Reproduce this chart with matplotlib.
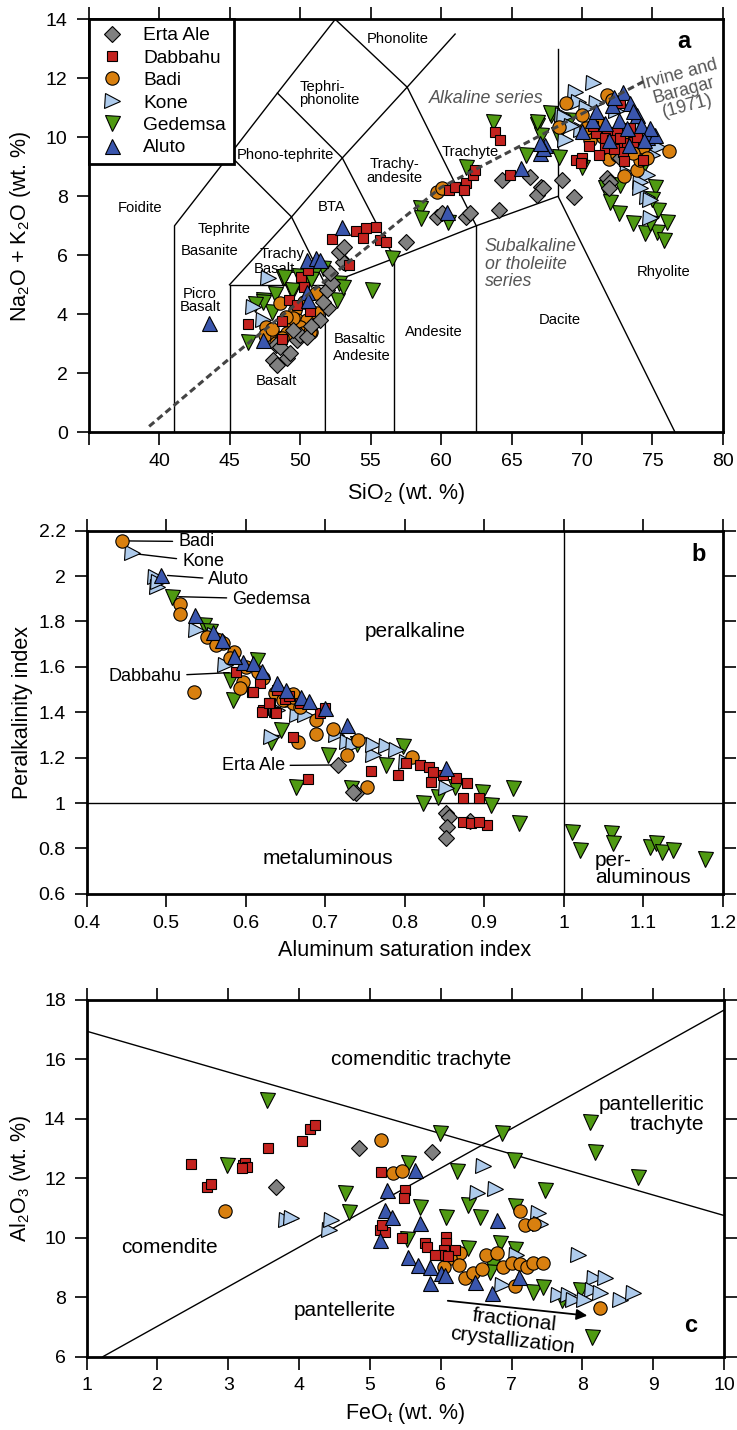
import matplotlib
matplotlib.use("Agg")
import matplotlib.pyplot as plt
import numpy as np
from matplotlib.ticker import FixedLocator, FuncFormatter

plt.rcParams['font.family'] = ['Liberation Sans', 'DejaVu Sans']
plt.rcParams['mathtext.fontset'] = 'custom'
plt.rcParams['mathtext.rm'] = 'Liberation Sans'
plt.rcParams['mathtext.it'] = 'Liberation Sans:italic'

# ---- volcanic centres: marker, face colour, marker size
CENTRES = ['Erta Ale', 'Dabbahu', 'Badi', 'Kone', 'Gedemsa', 'Aluto']
STYLE = {
    'Erta Ale': ('D', '#808080', 7.8),
    'Dabbahu': ('s', '#c4231f', 7.8),
    'Badi': ('o', '#d9800f', 9.6),
    'Kone': ('>', '#aecbec', 10.8),
    'Gedemsa': ('v', '#4f9a12', 10.8),
    'Aluto': ('^', '#3a56ad', 10.8),
}
DRAW_ORDER = ['Gedemsa', 'Kone', 'Badi', 'Erta Ale', 'Dabbahu', 'Aluto']

# ---- (a) total alkali vs silica
tas_erta_ale_sio2 = [48.1, 48.4, 49.1, 48.3, 48.6, 49.8, 50.0, 50.5, 49.5, 51.4, 52.0, 51.6, 51.9, 52.3,
                     52.1, 53.2, 53.05, 52.8, 53.1, 57.5, 59.7, 60.05, 61.8, 62.06, 64.1, 64.3, 66.3,
                     67.1, 68.55, 69.4, 66.8, 67.25, 71.75, 72.0, 71.9, 72.7, 49.3, 50.8]
tas_erta_ale_alk = [2.45, 2.28, 2.52, 2.96, 2.9, 3.13, 3.3, 3.24, 3.47, 3.8, 4.2, 4.4, 4.82, 5.06,
                    5.4, 5.73, 5.78, 6.12, 6.27, 6.46, 7.31, 7.42, 7.31, 7.42, 7.54, 8.55, 8.66,
                    8.33, 8.55, 7.99, 8.04, 8.27, 8.61, 8.5, 8.27, 9.29, 2.7, 3.6]
tas_dabbahu_sio2 = [46.3, 48.7, 48.7, 49.2, 50.7, 50.1, 50.6, 50.3, 52.25, 54.0, 54.7, 55.4, 54.5, 55.7,
                    56.1, 53.5, 60.6, 61.35, 61.8, 62.3, 62.4, 61.0, 61.6, 63.8, 64.2, 64.9, 69.6, 70.0,
                    69.9, 71.75, 71.0, 72.5, 71.6, 71.6, 72.6, 73.2, 73.6, 74.35, 72.1, 72.7, 73.9, 72.7,
                    70.5, 71.2, 72.9, 73.4, 70.8, 72.3, 73.0, 49.8]
tas_dabbahu_alk = [3.66, 3.15, 3.77, 4.47, 4.12, 5.27, 5.5, 4.92, 6.54, 6.83, 6.91, 6.97, 6.58, 6.52,
                   6.46, 5.67, 8.21, 8.33, 8.44, 8.72, 8.89, 8.3, 8.2, 10.19, 9.91, 8.72, 9.23, 9.29,
                   9.12, 10.19, 10.14, 10.19, 9.97, 9.63, 9.68, 9.8, 9.85, 9.23, 9.91, 9.97, 10.02, 11.15,
                   9.7, 9.4, 9.5, 10.3, 10.4, 9.6, 9.2, 4.3]
tas_badi_sio2 = [48.6, 49.65, 49.8, 50.5, 50.8, 51.2, 51.1, 49.4, 49.05, 47.6, 47.5, 48.4, 50.0, 50.2,
                 48.3, 48.7, 49.5, 50.7, 59.7, 60.1, 68.9, 71.75, 70.0, 68.4, 70.6, 76.2, 71.9, 73.9,
                 74.1, 74.3, 73.6, 72.1, 72.9, 71.3, 71.5, 70.3, 72.5, 74.6, 73.0, 49.0, 50.3, 48.0]
tas_badi_alk = [4.37, 4.15, 3.81, 3.81, 3.41, 4.03, 4.71, 3.69, 3.36, 3.58, 3.3, 3.24, 3.58, 3.36,
                3.02, 3.2, 3.87, 3.41, 8.16, 8.28, 11.17, 11.43, 10.76, 10.36, 9.91, 9.55, 9.25, 8.89,
                9.23, 9.68, 9.46, 11.26, 10.0, 10.5, 10.0, 10.3, 9.4, 9.3, 8.7, 3.9, 4.4, 3.5]
tas_kone_sio2 = [47.75, 46.7, 47.4, 70.8, 69.5, 69.7, 71.0, 68.6, 69.9, 68.8, 74.6, 74.1, 74.6, 74.8,
                 75.4, 73.2, 74.1, 68.7, 74.8, 72.4, 74.0, 69.2, 70.3, 75.0]
tas_kone_alk = [5.22, 4.26, 3.81, 11.83, 11.55, 11.21, 11.15, 10.76, 10.25, 9.91, 8.72, 8.49, 7.99, 7.25,
                9.68, 8.78, 8.27, 10.7, 7.87, 10.9, 10.3, 10.4, 11.0, 9.4]
tas_gedemsa_sio2 = [46.3, 47.4, 48.0, 48.8, 49.4, 48.9, 47.4, 49.4, 51.65, 52.6, 52.8, 53.05, 55.1, 56.5,
                    58.5, 58.6, 60.5, 61.8, 63.7, 66.0, 66.8, 67.1, 67.8, 68.3, 68.4, 70.0, 66.8, 67.7,
                    71.6, 72.7, 72.6, 73.6, 74.5, 75.3, 75.4, 76.0, 75.2, 75.8, 51.0, 50.3, 48.2, 75.0,
                    73.9, 69.1, 71.5, 72.0, 74.8, 74.2, 49.9, 50.8, 46.8]
tas_gedemsa_alk = [3.07, 4.48, 4.09, 5.24, 4.77, 5.27, 4.43, 4.82, 5.56, 4.48, 5.05, 4.93, 4.82, 5.9,
                   7.59, 7.25, 7.14, 9.0, 10.53, 9.4, 10.42, 10.08, 10.76, 10.08, 9.34, 9.0, 10.53, 10.81,
                   8.27, 8.38, 7.42, 7.08, 6.75, 6.8, 7.53, 7.14, 8.33, 6.52, 5.4, 5.1, 4.7, 7.9,
                   9.8, 10.6, 10.0, 7.8, 7.1, 8.9, 5.3, 5.2, 4.35]
tas_aluto_sio2 = [43.57, 47.4, 50.5, 51.1, 51.4, 50.5, 50.6, 53.0, 60.4, 65.7, 67.4, 67.0, 72.9, 72.1,
                  73.4, 70.7, 71.6, 72.6, 73.2, 73.9, 74.2, 74.6, 75.2, 73.3, 74.8, 67.25, 67.0,
                  71.0, 72.3, 73.6, 74.4, 71.9, 70.0]
tas_aluto_alk = [3.72, 3.13, 5.84, 5.9, 5.84, 4.77, 4.48, 6.97, 7.48, 8.95, 9.74, 9.46, 11.55, 11.1,
                 11.15, 10.59, 10.47, 10.59, 10.3, 10.76, 10.42, 10.02, 10.08, 9.74, 10.3, 9.63, 9.8,
                 10.9, 11.35, 10.9, 9.9, 9.9, 10.2]

# TAS field boundaries (SiO2, Na2O+K2O)
tas_fields = [
    [(41.1, 0), (41.1, 7), (45, 9.4), (48.4, 11.5), (52.5, 14)],
    [(45, 0), (45, 5), (51.8, 5)],
    [(45, 5), (49.4, 7.3), (51.8, 5)],
    [(51.8, 0), (51.8, 5), (56.7, 5.9), (62.5, 7), (68.3, 8), (76.6, 0)],
    [(56.7, 0), (56.7, 5.9)],
    [(62.5, 0), (62.5, 7)],
    [(68.3, 8), (68.3, 13)],
    [(45, 9.4), (49.4, 7.3), (53, 9.3), (57.6, 11.7), (61, 13.5)],
    [(48.4, 11.5), (53, 9.3), (56.7, 5.9)],
    [(52.5, 14), (57.6, 11.7), (62.5, 7)],
]
irvine_baragar = [(39.3, 0.2), (45, 2.5), (50, 4.45), (54.7, 6.25), (60, 8.3), (65, 9.55),
                  (70, 10.8), (74.6, 11.95)]

# ---- (b) peralkalinity vs aluminum saturation
asi_erta_ale = [0.716, 0.739, 0.852, 0.856, 0.853, 0.852, 0.882, 0.735]
pi_erta_ale = [1.168, 1.043, 0.955, 0.94, 0.896, 0.845, 0.921, 1.05]
asi_dabbahu = [0.588, 0.608, 0.618, 0.622, 0.637, 0.63, 0.693, 0.668, 0.609, 0.62, 0.638, 0.629, 0.66,
               0.678, 0.758, 0.791, 0.802, 0.819, 0.831, 0.835, 0.833, 0.848, 0.865, 0.878, 0.873,
               0.894, 0.873, 0.884, 0.903, 0.894, 0.65, 0.64, 0.7, 0.655]
pi_dabbahu = [1.576, 1.491, 1.528, 1.41, 1.403, 1.44, 1.396, 1.44, 1.491, 1.403, 1.398, 1.44, 1.293,
              1.106, 1.141, 1.124, 1.175, 1.168, 1.16, 1.138, 1.094, 1.124, 1.109, 1.09, 1.021,
              1.021, 0.918, 0.911, 0.904, 0.918, 1.46, 1.5, 1.42, 1.47]
asi_badi = [0.445, 0.518, 0.518, 0.551, 0.567, 0.572, 0.563, 0.585, 0.58, 0.615, 0.622, 0.597, 0.593,
            0.535, 0.637, 0.649, 0.66, 0.659, 0.668, 0.689, 0.71, 0.688, 0.666, 0.741, 0.728, 0.809,
            0.753, 0.647, 0.6, 0.66]
pi_badi = [2.155, 1.877, 1.832, 1.733, 1.719, 1.704, 1.696, 1.667, 1.638, 1.579, 1.55, 1.535, 1.506,
           1.491, 1.484, 1.454, 1.44, 1.469, 1.425, 1.366, 1.325, 1.303, 1.27, 1.278, 1.212, 1.204,
           1.072, 1.454, 1.6, 1.48]
asi_kone = [0.457, 0.486, 0.488, 0.538, 0.574, 0.664, 0.674, 0.632, 0.714, 0.727, 0.76, 0.76, 0.777,
            0.789, 0.802, 0.852, 0.49, 0.735, 0.56, 0.64]
pi_kone = [2.1, 1.997, 1.953, 1.763, 1.608, 1.388, 1.388, 1.293, 1.3, 1.27, 1.212, 1.256, 1.252,
           1.234, 1.182, 1.065, 1.975, 1.255, 1.74, 1.41]
asi_gedemsa = [0.507, 0.547, 0.58, 0.584, 0.614, 0.645, 0.632, 0.704, 0.663, 0.733, 0.777, 0.798,
               0.823, 0.842, 0.863, 0.897, 0.909, 0.936, 0.944, 1.011, 1.021, 1.06, 1.062, 1.108,
               1.116, 1.124, 1.137, 1.178, 0.555, 0.74]
pi_gedemsa = [1.91, 1.785, 1.542, 1.454, 1.63, 1.322, 1.27, 1.212, 1.072, 1.065, 1.168, 1.252,
              1.002, 1.028, 1.072, 1.05, 0.992, 1.065, 0.914, 0.874, 0.793, 0.869, 0.823, 0.808,
              0.823, 0.786, 0.793, 0.753, 1.76, 1.26]
asi_aluto = [0.493, 0.536, 0.559, 0.597, 0.609, 0.639, 0.651, 0.67, 0.727, 0.852, 0.62, 0.585,
             0.68, 0.7, 0.57]
pi_aluto = [2.005, 1.829, 1.755, 1.623, 1.616, 1.528, 1.498, 1.469, 1.344, 1.153, 1.58, 1.65,
            1.45, 1.42, 1.72]

# labelled samples in (b): name, ASI, PI, label ASI, label PI, alignment
b_callouts = [
    ('Badi', 0.445, 2.155, 0.515, 2.152, 'left'),
    ('Kone', 0.457, 2.100, 0.520, 2.063, 'left'),
    ('Aluto', 0.493, 2.005, 0.553, 1.983, 'left'),
    ('Gedemsa', 0.507, 1.910, 0.583, 1.899, 'left'),
    ('Dabbahu', 0.588, 1.576, 0.519, 1.557, 'right'),
    ('Erta Ale', 0.716, 1.168, 0.649, 1.165, 'right'),
]

# ---- (c) Al2O3 vs FeOt
feo_erta_ale = [3.68, 4.84, 5.88]
al_erta_ale = [11.72, 13.01, 12.87]
feo_dabbahu = [2.48, 3.56, 4.04, 4.15, 4.22, 3.21, 3.24, 3.26, 3.19, 2.7, 2.75, 5.15, 5.5, 5.48, 5.14,
               5.21, 5.17, 5.45, 5.78, 5.8, 6.08, 6.08, 6.04, 6.01, 6.2, 5.92, 6.1]
al_dabbahu = [12.47, 13.01, 13.27, 13.65, 13.8, 12.45, 12.51, 12.39, 12.34, 11.72, 11.81, 12.2, 11.61,
              11.33, 10.26, 10.21, 10.43, 9.98, 9.81, 9.7, 10.04, 9.81, 9.59, 9.42, 9.59, 9.42, 9.37]
feo_badi = [5.15, 5.33, 5.45, 7.12, 7.19, 7.32, 6.27, 6.13, 6.04, 6.26, 6.34, 6.46, 6.58, 6.64, 6.8,
            6.88, 7.0, 7.12, 7.22, 7.31, 7.44, 7.05, 8.25, 2.96]
al_badi = [13.3, 12.19, 12.23, 10.9, 10.43, 10.47, 9.48, 9.31, 9.03, 9.08, 8.64, 8.8, 8.94, 9.42, 9.5,
           9.03, 9.16, 9.12, 9.03, 9.16, 9.16, 8.38, 7.65, 10.91]
feo_kone = [6.6, 6.77, 6.51, 7.38, 7.4, 7.94, 7.07, 8.16, 8.32, 8.13, 8.25, 7.66, 7.8, 7.87, 8.02,
            8.53, 8.72, 6.86, 4.42, 4.45, 3.82, 3.89]
al_kone = [12.42, 11.63, 11.5, 10.82, 10.45, 9.42, 9.42, 8.64, 8.64, 8.24, 8.13, 8.07, 8.07, 7.9, 7.9,
           7.9, 8.13, 8.41, 10.25, 10.6, 10.6, 10.68]
feo_gedemsa = [5.99, 6.86, 5.54, 6.23, 7.03, 8.18, 8.79, 8.11, 7.47, 5.71, 6.39, 6.08, 6.55, 7.05,
               5.52, 6.39, 6.84, 7.05, 6.72, 6.7, 7.3, 7.45, 7.71, 7.97, 4.65, 4.71, 8.14, 3.54, 2.98]
al_gedemsa = [13.52, 13.52, 12.51, 12.23, 12.62, 12.9, 12.06, 13.91, 11.61, 11.05, 11.1, 10.69, 10.69,
              11.07, 9.95, 9.65, 9.81, 9.61, 9.05, 8.86, 8.19, 8.36, 7.9, 8.24, 11.5, 10.88, 6.67,
              14.64, 12.45]
feo_aluto = [5.64, 5.24, 5.21, 5.31, 5.71, 6.79, 5.14, 5.54, 5.68, 5.85, 6.0, 6.06, 5.85, 6.48, 7.1,
             6.72]
al_aluto = [12.28, 11.61, 10.94, 10.71, 10.49, 10.6, 9.93, 9.36, 9.08, 9.03, 8.8, 8.75, 8.47, 8.52,
            8.69, 8.13]

# Macdonald (1974) dividing lines, FeOt -> Al2O3
trachyte_line = [(1, 16.95), (10, 10.75)]
comendite_line = [(1.23, 6.0), (10, 17.66)]

TAS = {
    'Erta Ale': (tas_erta_ale_sio2, tas_erta_ale_alk),
    'Dabbahu': (tas_dabbahu_sio2, tas_dabbahu_alk),
    'Badi': (tas_badi_sio2, tas_badi_alk),
    'Kone': (tas_kone_sio2, tas_kone_alk),
    'Gedemsa': (tas_gedemsa_sio2, tas_gedemsa_alk),
    'Aluto': (tas_aluto_sio2, tas_aluto_alk),
}
ASI_PI = {
    'Erta Ale': (asi_erta_ale, pi_erta_ale),
    'Dabbahu': (asi_dabbahu, pi_dabbahu),
    'Badi': (asi_badi, pi_badi),
    'Kone': (asi_kone, pi_kone),
    'Gedemsa': (asi_gedemsa, pi_gedemsa),
    'Aluto': (asi_aluto, pi_aluto),
}
FEO_AL = {
    'Erta Ale': (feo_erta_ale, al_erta_ale),
    'Dabbahu': (feo_dabbahu, al_dabbahu),
    'Badi': (feo_badi, al_badi),
    'Kone': (feo_kone, al_kone),
    'Gedemsa': (feo_gedemsa, al_gedemsa),
    'Aluto': (feo_aluto, al_aluto),
}

TICK_FS = 14
LABEL_FS = 15.5
GREY_TEXT = '#555555'


def fmt(v, pos):
    return '%g' % v


def style_axes(ax, xticks, yticks, right=True, xskip=()):
    for sp in ax.spines.values():
        sp.set_linewidth(2.0)
    ax.xaxis.set_major_locator(FixedLocator(xticks))
    ax.yaxis.set_major_locator(FixedLocator(yticks))
    ax.xaxis.set_major_formatter(FuncFormatter(lambda v, p: '' if v in xskip else fmt(v, p)))
    ax.yaxis.set_major_formatter(FuncFormatter(fmt))
    ax.tick_params(direction='out', length=9, width=1.2, pad=6, labelsize=TICK_FS,
                   top=True, right=right, labeltop=False, labelright=False)


def scatter_centres(ax, data):
    for name in DRAW_ORDER:
        m, c, ms = STYLE[name]
        x, y = data[name]
        ax.plot(x, y, ls='none', marker=m, ms=ms, mfc=c, mec='black', mew=0.8, zorder=3)


fig = plt.figure(figsize=(7.37, 14.30), dpi=100)

# ---------------- (a) TAS
ax1 = fig.add_axes([0.1201, 0.6977, 0.8609, 0.2888])
ax1.set_xlim(35, 80)
ax1.set_ylim(0, 14)
style_axes(ax1, np.arange(35, 81, 5), np.arange(0, 15, 2), right=False, xskip=(35,))

for seg in tas_fields:
    xs, ys = zip(*seg)
    ax1.plot(xs, ys, color='black', lw=1.0, zorder=1)
xs, ys = zip(*irvine_baragar)
ax1.plot(xs, ys, color='#444444', lw=2.2, ls=(0, (2.2, 1.3)), zorder=4)

scatter_centres(ax1, TAS)

field_labels = [
    ('Foidite', 38.65, 7.6), ('Tephrite', 44.6, 6.9), ('Basanite', 43.6, 6.13),
    ('Trachy', 48.75, 6.05), ('Basalt', 48.2, 5.55), ('Basalt', 48.3, 1.74),
    ('Andesite', 59.5, 3.41), ('Dacite', 68.4, 3.8), ('Rhyolite', 75.8, 5.44),
    ('Trachyte', 62.1, 9.49), ('Phonolite', 56.9, 13.33), ('Phono-tephrite', 49.0, 9.4),
    ('BTA', 52.25, 7.63),
]
for t, x, y in field_labels:
    ax1.text(x, y, t, fontsize=10.6, ha='center', va='center', zorder=2)
ax1.text(42.9, 4.47, 'Picro\nBasalt', fontsize=10.6, ha='center', va='center', linespacing=0.9)
ax1.text(52.36, 2.88, 'Basaltic\nAndesite', fontsize=10.6, ha='left', va='center', linespacing=1.25)
ax1.text(56.7, 8.86, 'Trachy-\nandesite', fontsize=10.6, ha='center', va='center', linespacing=1.05)
ax1.text(49.95, 11.5, 'Tephri-\nphonolite', fontsize=10.6, ha='left', va='center', linespacing=0.9)

ax1.text(63.2, 11.3, 'Alkaline series', fontsize=12.8, style='italic', color=GREY_TEXT,
         ha='center', va='center')
ax1.text(63.1, 5.7, 'Subalkaline\nor tholeiite\nseries', fontsize=12.8, style='italic',
         color=GREY_TEXT, ha='left', va='center', linespacing=1.05)
ax1.text(77.2, 11.6, 'Irvine and\nBaragar\n(1971)', fontsize=12.8, color=GREY_TEXT,
         ha='center', va='center', rotation=15, linespacing=0.95, rotation_mode='anchor')
ax1.text(77.2, 13.24, 'a', fontsize=17, fontweight='bold', ha='center', va='center')

ax1.set_xlabel('SiO$_2$ (wt. %)', fontsize=LABEL_FS)
ax1.set_ylabel('Na$_2$O + K$_2$O (wt. %)', fontsize=LABEL_FS)
ax1.xaxis.set_label_coords(0.5, -0.118)
ax1.yaxis.set_label_coords(-0.087, 0.5)

handles = []
for name in CENTRES:
    m, c, ms = STYLE[name]
    h, = ax1.plot([], [], ls='none', marker=m, ms=ms, mfc=c, mec='black', mew=0.8, label=name)
    handles.append(h)
leg = ax1.legend(handles=handles, loc='upper left', bbox_to_anchor=(0, 1), borderaxespad=0,
                 fancybox=False, edgecolor='black', framealpha=1, fontsize=13.8,
                 labelspacing=0.26, handletextpad=0.75, borderpad=0.4, handlelength=1.7)
leg.get_frame().set_linewidth(2.0)
leg.set_zorder(10)

# ---------------- (b) peralkalinity vs ASI
ax2 = fig.add_axes([0.1176, 0.3749, 0.8630, 0.2540])
ax2.set_xlim(0.4, 1.2)
ax2.set_ylim(0.6, 2.2)
style_axes(ax2, np.round(np.arange(0.4, 1.21, 0.1), 2), np.round(np.arange(0.6, 2.21, 0.2), 2))
ax2.axhline(1.0, color='black', lw=1.0, zorder=1)
ax2.axvline(1.0, color='black', lw=1.0, zorder=1)

scatter_centres(ax2, ASI_PI)

for name, x, y, tx, ty, ha in b_callouts:
    ax2.annotate(name, xy=(x, y), xytext=(tx, ty), fontsize=13, ha=ha, va='center',
                 arrowprops=dict(arrowstyle='-', color='black', lw=1.0, shrinkA=2, shrinkB=5),
                 zorder=5)

ax2.text(0.813, 1.755, 'peralkaline', fontsize=15, ha='center', va='center')
ax2.text(0.704, 0.757, 'metaluminous', fontsize=15, ha='center', va='center')
ax2.text(1.039, 0.711, 'per-\naluminous', fontsize=15, ha='left', va='center', linespacing=0.85)
ax2.text(1.17, 2.097, 'b', fontsize=17, fontweight='bold', ha='center', va='center')

ax2.set_xlabel('Aluminum saturation index', fontsize=LABEL_FS)
ax2.set_ylabel('Peralkalinity index', fontsize=LABEL_FS)
ax2.xaxis.set_label_coords(0.5, -0.128)
ax2.yaxis.set_label_coords(-0.084, 0.5)

# ---------------- (c) Al2O3 vs FeOt
ax3 = fig.add_axes([0.1176, 0.0513, 0.8647, 0.2494])
ax3.set_xlim(1, 10)
ax3.set_ylim(6, 18)
style_axes(ax3, np.arange(1, 11, 1), np.arange(6, 19, 2))
for line in (trachyte_line, comendite_line):
    xs, ys = zip(*line)
    ax3.plot(xs, ys, color='black', lw=1.0, zorder=1)

scatter_centres(ax3, FEO_AL)

ax3.text(5.72, 16.0, 'comenditic trachyte', fontsize=15, ha='center', va='center')
ax3.text(9.72, 14.14, 'pantelleritic\ntrachyte', fontsize=15, ha='right', va='center',
         multialignment='right', linespacing=1.1)
ax3.text(2.165, 9.68, 'comendite', fontsize=15, ha='center', va='center')
ax3.text(4.65, 7.55, 'pantellerite', fontsize=15, ha='center', va='center')
ax3.text(7.03, 6.88, 'fractional\ncrystallization', fontsize=15, ha='center', va='center',
         rotation=-6.5, linespacing=1.05, rotation_mode='anchor')
ax3.annotate('', xy=(8.07, 7.38), xytext=(6.1, 7.88),
             arrowprops=dict(arrowstyle='-|>', color='black', lw=1.3, mutation_scale=16,
                             shrinkA=0, shrinkB=0), zorder=5)
ax3.text(9.53, 7.04, 'c', fontsize=17, fontweight='bold', ha='center', va='center')

ax3.set_xlabel('FeO$_\\mathrm{t}$ (wt. %)', fontsize=LABEL_FS)
ax3.set_ylabel('Al$_2$O$_3$ (wt. %)', fontsize=LABEL_FS)
ax3.xaxis.set_label_coords(0.5, -0.125)
ax3.yaxis.set_label_coords(-0.084, 0.5)

fig.savefig('out.png', dpi=100)
